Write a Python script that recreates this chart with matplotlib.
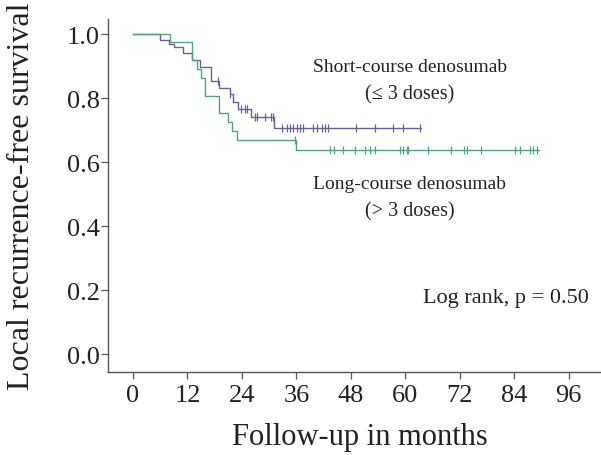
import numpy as np
import matplotlib
matplotlib.use('Agg')
import matplotlib.pyplot as plt

# step curves: time of each drop and the survival after it
short_times = [0, 6.0, 8.0, 9.0, 11.0, 13.1, 14.7, 17.1, 19.0, 21.4, 22.1, 23.2, 26.1, 31.1, 63.4]
short_surv = [1.0, 0.98, 0.97, 0.96, 0.94, 0.92, 0.896, 0.854, 0.833, 0.8125, 0.789, 0.766, 0.74, 0.706, 0.706]
short_censor = [18.8, 21.4, 23.9, 24.7, 25.2, 26.9, 27.3, 29.1, 30.3, 30.9, 32.8, 33.9, 34.6,
                35.3, 36.1, 36.8, 37.5, 39.7, 40.6, 41.6, 42.3, 43.0, 49.1, 53.3, 57.2, 59.5, 63.2]

long_times = [0, 8.1, 13.1, 14.0, 15.0, 15.9, 19.0, 21.0, 21.9, 23.0, 35.9, 89.5]
long_surv = [1.0, 0.975, 0.92, 0.89, 0.862, 0.807, 0.752, 0.724, 0.698, 0.669, 0.638, 0.638]
long_censor = [35.8, 43.4, 44.3, 46.3, 48.9, 51.1, 52.2, 53.3, 58.8, 59.5, 60.3, 60.6, 65.0,
               70.0, 72.9, 73.5, 76.7, 84.1, 85.2, 87.4, 88.1, 88.9]

x_ticks = [0, 12, 24, 36, 48, 60, 72, 84, 96]
y_ticks = [0.0, 0.2, 0.4, 0.6, 0.8, 1.0]

blue = '#62629e'
green = '#52a47f'
text_col = '#222222'

plt.rcParams['font.family'] = ['Liberation Serif', 'DejaVu Serif']

fig = plt.figure(figsize=(6.01, 4.56), dpi=100)
ax = fig.add_axes([108 / 601, (456 - 373) / 456, 1 - 108 / 601, (373 - 20) / 456])


def level_at(times, surv, t):
    # survival value of the step curve at time t
    idx = np.searchsorted(times, t, side='right') - 1
    return surv[idx]


for times, surv, cens, col in [(short_times, short_surv, short_censor, blue),
                               (long_times, long_surv, long_censor, green)]:
    ax.step(times, surv, where='post', color=col, linewidth=1.0)
    cy = [level_at(times, surv, c) for c in cens]
    ax.plot(cens, cy, linestyle='none', marker='|', markersize=6,
            markeredgewidth=0.9, color=col)

ax.set_xlim(-5.5, 103.1)
ax.set_ylim(-0.055, 1.047)
ax.set_xticks(x_ticks)
ax.set_yticks(y_ticks)
ax.set_xticklabels([str(v) for v in x_ticks])
ax.set_yticklabels(['%.1f' % v for v in y_ticks])

for side in ['top', 'right']:
    ax.spines[side].set_visible(False)
for side in ['left', 'bottom']:
    ax.spines[side].set_color('#555555')
    ax.spines[side].set_linewidth(1.0)

ax.tick_params(axis='both', colors='#555555', labelcolor=text_col, labelsize=19,
               length=5, width=0.9, direction='out')
ax.tick_params(axis='x', pad=4)
ax.tick_params(axis='y', pad=1)

# axis titles placed in figure pixels to match the reference
fig.text(360 / 601, 1 - 438 / 456, 'Follow-up in months', ha='center', va='center',
         fontsize=22, color=text_col)
fig.text(22 / 601, 1 - 196 / 456, 'Local recurrence-free survival', ha='center', va='center',
         rotation=90, fontsize=23, color=text_col)

fig.text(410 / 601, 1 - 68 / 456, 'Short-course denosumab', ha='center', va='center',
         fontsize=14, color=text_col)
fig.text(410 / 601, 1 - 95 / 456, '(\u2264 3 doses)', ha='center', va='center',
         fontsize=14.5, color=text_col)
fig.text(410 / 601, 1 - 185 / 456, 'Long-course denosumab', ha='center', va='center',
         fontsize=14, color=text_col)
fig.text(410 / 601, 1 - 212 / 456, '(> 3 doses)', ha='center', va='center',
         fontsize=14.5, color=text_col)
fig.text(589 / 601, 1 - 298 / 456, 'Log rank, p = 0.50', ha='right', va='center',
         fontsize=16, color=text_col)

fig.savefig('out.png', dpi=100)
plt.close(fig)
